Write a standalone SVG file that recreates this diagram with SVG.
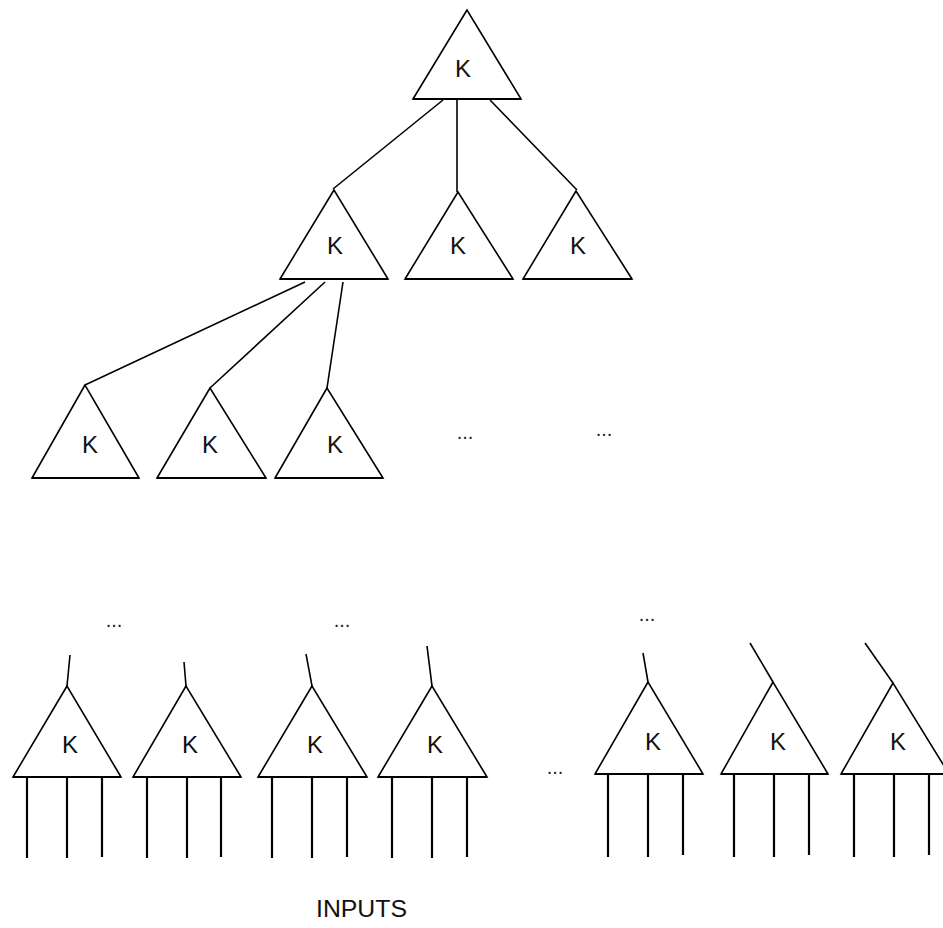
<svg xmlns="http://www.w3.org/2000/svg" width="943" height="928" viewBox="0 0 943 928">
<style>
.tri{fill:none;stroke:#000;stroke-width:1.6;stroke-linejoin:miter}
.base{stroke:#000;stroke-width:2.2}
.k{font-family:"Liberation Sans",Arial,sans-serif;font-size:24px;fill:#111;text-anchor:middle}
.dots{font-family:"Liberation Sans",Arial,sans-serif;font-size:20px;fill:#222;text-anchor:middle}
.c{stroke:#000;stroke-width:1.6;fill:none}
.in{stroke:#000;stroke-width:2.2}
</style>
<rect width="943" height="928" fill="#fff"/>
<g id="connectors">
<line class="c" x1="443" y1="100" x2="333" y2="189"/>
<line class="c" x1="457" y1="100" x2="457" y2="192"/>
<line class="c" x1="490" y1="100" x2="577" y2="190"/>
<line class="c" x1="305" y1="282" x2="85" y2="385"/>
<line class="c" x1="325" y1="282" x2="210" y2="388"/>
<line class="c" x1="343" y1="282" x2="327" y2="388"/>
<line class="c" x1="67" y1="686" x2="70" y2="655"/>
<line class="c" x1="186" y1="686" x2="184" y2="662"/>
<line class="c" x1="312" y1="686" x2="306" y2="654"/>
<line class="c" x1="432" y1="686" x2="427" y2="646"/>
<line class="c" x1="648" y1="682" x2="643" y2="653"/>
<line class="c" x1="773" y1="682" x2="750" y2="643"/>
<line class="c" x1="893" y1="683" x2="865" y2="643"/>
</g>
<g id="n0"><polygon class="tri" points="467,10 413,99 521,99"/><line class="base" x1="413" y1="99" x2="521" y2="99"/><text class="k" x="463" y="77">K</text></g>
<g id="n1"><polygon class="tri" points="334,190 280,279 388,279"/><line class="base" x1="280" y1="279" x2="388" y2="279"/><text class="k" x="335" y="254">K</text></g>
<g id="n2"><polygon class="tri" points="458,192 405,279 513,279"/><line class="base" x1="405" y1="279" x2="513" y2="279"/><text class="k" x="458" y="254">K</text></g>
<g id="n3"><polygon class="tri" points="576,191 523,279 632,279"/><line class="base" x1="523" y1="279" x2="632" y2="279"/><text class="k" x="578" y="254">K</text></g>
<g id="n4"><polygon class="tri" points="85,385 32,478 139,478"/><line class="base" x1="32" y1="478" x2="139" y2="478"/><text class="k" x="90" y="453">K</text></g>
<g id="n5"><polygon class="tri" points="210,388 157,478 266,478"/><line class="base" x1="157" y1="478" x2="266" y2="478"/><text class="k" x="210" y="453">K</text></g>
<g id="n6"><polygon class="tri" points="327,388 275,478 383,478"/><line class="base" x1="275" y1="478" x2="383" y2="478"/><text class="k" x="335" y="453">K</text></g>
<g id="d1"><text class="dots" x="465" y="439">...</text></g>
<g id="d2"><text class="dots" x="604" y="436">...</text></g>
<g id="d3"><text class="dots" x="114" y="627">...</text></g>
<g id="d4"><text class="dots" x="342" y="627">...</text></g>
<g id="d5"><text class="dots" x="647" y="621">...</text></g>
<g id="d6"><text class="dots" x="555" y="774">...</text></g>
<g id="b1"><polygon class="tri" points="67,686 13,777 121,777"/><line class="base" x1="13" y1="777" x2="121" y2="777"/><text class="k" x="70" y="753">K</text>
<line class="in" x1="27" y1="777" x2="27" y2="858"/><line class="in" x1="67" y1="777" x2="67" y2="858"/><line class="in" x1="102" y1="777" x2="102" y2="857"/></g>
<g id="b2"><polygon class="tri" points="186,686 133,777 241,777"/><line class="base" x1="133" y1="777" x2="241" y2="777"/><text class="k" x="190" y="753">K</text>
<line class="in" x1="147" y1="777" x2="147" y2="858"/><line class="in" x1="187" y1="777" x2="187" y2="858"/><line class="in" x1="221" y1="777" x2="221" y2="857"/></g>
<g id="b3"><polygon class="tri" points="312,686 258,777 367,777"/><line class="base" x1="258" y1="777" x2="367" y2="777"/><text class="k" x="315" y="753">K</text>
<line class="in" x1="272" y1="777" x2="272" y2="858"/><line class="in" x1="312" y1="777" x2="312" y2="858"/><line class="in" x1="347" y1="777" x2="347" y2="857"/></g>
<g id="b4"><polygon class="tri" points="432,686 378,777 487,777"/><line class="base" x1="378" y1="777" x2="487" y2="777"/><text class="k" x="435" y="753">K</text>
<line class="in" x1="392" y1="777" x2="392" y2="858"/><line class="in" x1="432" y1="777" x2="432" y2="858"/><line class="in" x1="467" y1="777" x2="467" y2="857"/></g>
<g id="b5"><polygon class="tri" points="648,682 595,774 703,774"/><line class="base" x1="595" y1="774" x2="703" y2="774"/><text class="k" x="653" y="750">K</text>
<line class="in" x1="608" y1="774" x2="608" y2="857"/><line class="in" x1="648" y1="774" x2="648" y2="857"/><line class="in" x1="683" y1="774" x2="683" y2="855"/></g>
<g id="b6"><polygon class="tri" points="773,682 721,774 828,774"/><line class="base" x1="721" y1="774" x2="828" y2="774"/><text class="k" x="778" y="750">K</text>
<line class="in" x1="734" y1="774" x2="734" y2="857"/><line class="in" x1="774" y1="774" x2="774" y2="857"/><line class="in" x1="809" y1="774" x2="809" y2="855"/></g>
<g id="b7"><polygon class="tri" points="893,683 841,774 949,774"/><line class="base" x1="841" y1="774" x2="949" y2="774"/><text class="k" x="898" y="750">K</text>
<line class="in" x1="854" y1="774" x2="854" y2="857"/><line class="in" x1="894" y1="774" x2="894" y2="857"/><line class="in" x1="929" y1="774" x2="929" y2="855"/></g>
<g id="inputs"><text x="316" y="917" font-family="Liberation Sans, Arial, sans-serif" font-size="24" fill="#111" textLength="91" lengthAdjust="spacingAndGlyphs">INPUTS</text></g>
</svg>
